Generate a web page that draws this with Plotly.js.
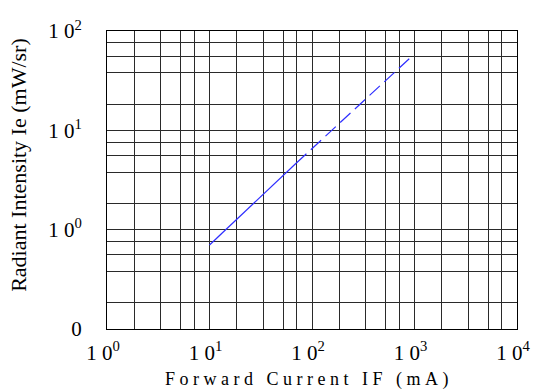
<!DOCTYPE html>
<html>
<head>
<meta charset="utf-8">
<script src="https://cdn.plot.ly/plotly-3.0.1.min.js"></script>
<style>html,body{margin:0;padding:0;background:#fff;}#chart{width:534px;height:392px;}</style>
</head>
<body>
<div id="chart"></div>
<script>
// Data
const solidX = [10, 70];
const solidY = [0.70, 4.66];
const dashX = [70, 950];
const dashY = [4.66, 56];

// Axis ticks and grid positions
const xTickVals = [1, 10, 100, 1000, 10000];
const xTickText = ["1 0<sup>0</sup>", "1 0<sup>1</sup>", "1 0<sup>2</sup>", "1 0<sup>3</sup>", "1 0<sup>4</sup>"];
const xMinorVals = [1.85, 3.33, 5.22, 7.1, 18.5, 33.3, 52.2, 71, 185, 333, 522, 710, 1850, 3330, 5220, 7100];
const yTickVals = [0.1, 1, 10, 100];
const yTickText = ["0", "1 0<sup>0</sup>", "1 0<sup>1</sup>", "1 0<sup>2</sup>"];
const yMinorVals = [0.184, 0.38, 0.558, 0.758, 1.84, 3.8, 5.58, 7.58, 18.4, 38, 55.8, 75.8];

const xTitle = "Forward Current IF (mA)";
const yTitle = "Radiant Intensity Ie (mW/sr)";

// letter-spaced version of the x title, as drawn in the reference
const spacedXTitle = xTitle.split(" ").map(w => w.split("").join("\u00a0")).join("\u00a0\u00a0 ");

const serif = "Liberation Serif, Times New Roman, serif";
const gridCol = "#2a2a2a";

const traces = [
  {x: solidX, y: solidY, mode: "lines", type: "scatter",
   line: {color: "#2d2dff", width: 1.2}, hoverinfo: "skip"},
  {x: dashX, y: dashY, mode: "lines", type: "scatter",
   line: {color: "#2d2dff", width: 1.2, dash: "14px,6px"}, hoverinfo: "skip"}
];

const layout = {
  width: 534, height: 392,
  margin: {l: 107, r: 17, t: 31, b: 63},
  paper_bgcolor: "#fff", plot_bgcolor: "#fff",
  showlegend: false,
  font: {family: serif, color: "#000"},
  xaxis: {
    type: "log", range: [0, 4],
    tickmode: "array", tickvals: xTickVals, ticktext: xTickText,
    tickfont: {family: serif, size: 21, color: "#000"},
    ticks: "outside", ticklen: 5, tickcolor: "rgba(0,0,0,0)",
    ticklabeloverflow: "allow", ticklabelshift: -4,
    showgrid: true, gridcolor: gridCol, gridwidth: 1,
    minor: {tickmode: "array", tickvals: xMinorVals, showgrid: true, gridcolor: gridCol, gridwidth: 1, ticks: ""},
    showline: true, linecolor: "#000", linewidth: 1, mirror: true,
    zeroline: false, automargin: false
  },
  yaxis: {
    type: "log", range: [-1, 2],
    tickmode: "array", tickvals: yTickVals, ticktext: yTickText,
    tickfont: {family: serif, size: 21, color: "#000"},
    ticks: "outside", ticklen: 20, tickcolor: "rgba(0,0,0,0)",
    ticklabeloverflow: "allow",
    showgrid: true, gridcolor: gridCol, gridwidth: 1,
    minor: {tickmode: "array", tickvals: yMinorVals, showgrid: true, gridcolor: gridCol, gridwidth: 1, ticks: ""},
    showline: true, linecolor: "#000", linewidth: 1, mirror: true,
    zeroline: false, automargin: false
  },
  annotations: [
    {text: spacedXTitle, xref: "paper", yref: "paper", x: 0.487, y: -0.170,
     xanchor: "center", yanchor: "middle", showarrow: false,
     font: {family: serif, size: 18, color: "#000"}},
    {text: yTitle, xref: "paper", yref: "paper", x: -0.2146, y: 0.551, textangle: -90,
     xanchor: "center", yanchor: "middle", showarrow: false,
     font: {family: serif, size: 22, color: "#000"}}
  ]
};

Plotly.newPlot("chart", traces, layout, {displayModeBar: false, staticPlot: true});
</script>
</body>
</html>
